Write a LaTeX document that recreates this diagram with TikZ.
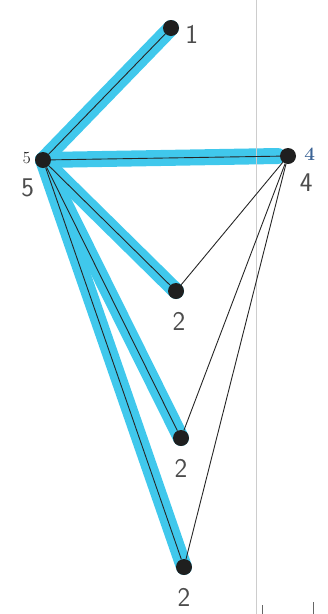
\documentclass[tikz,border=0pt]{standalone}
\usepackage{xcolor}
\usepackage{tikz}
\usetikzlibrary{positioning, backgrounds, calc}
\definecolor{hiblue}{RGB}{64,200,236}
\definecolor{tagblue}{RGB}{60,100,150}
\definecolor{margingray}{RGB}{205,205,205}
\tikzset{
    vtx/.style={circle, fill=black!88, inner sep=0pt, minimum size=16pt},
    gedge/.style={line width=0.9pt, draw=black!85},
    hilite/.style={line width=16pt, draw=hiblue, line cap=round},
    handlbl/.style={font=\sffamily\fontsize{27}{27}\selectfont, text=black!70, inner sep=0pt},
    smalllbl/.style={font=\fontsize{17}{17}\selectfont, inner sep=0pt},
}

\begin{document}
\begin{tikzpicture}[x=1pt, y=-1pt]
        \useasboundingbox (0,0) rectangle (328,614);
        % margin line of the paper
        \draw[margingray, line width=0.8pt] (256,0) -- (256,614);
        \draw[black!60, line width=0.8pt] (262,605) -- (262,614);
        \draw[black!60, line width=0.8pt] (313,602) -- (313,614);
        % vertices
        \node[vtx] (v1) at (171,28) {};
        \node[vtx] (v5) at (43,160) {};
        \node[vtx] (v4) at (288,156) {};
        \node[vtx] (v2a) at (176,291) {};
        \node[vtx] (v2b) at (181,438) {};
        \node[vtx] (v2c) at (184,567) {};
        % highlighted tree
        \begin{scope}[on background layer]
            \draw[hilite] (v5.center) -- (v1.center);
            \draw[hilite] (v5.center) -- ($(v4.center)+(-10,0)$);
            \draw[hilite] (v5.center) -- (v2a.center);
            \draw[hilite] (v5.center) -- (v2b.center);
            \draw[hilite] (v5.center) -- (v2c.center);
        \end{scope}
        % edges
        \foreach \t in {v1, v4, v2a, v2b, v2c} {
            \draw[gedge] (v5) -- (\t);
        }
        \foreach \t in {v2a, v2b, v2c} {
            \draw[gedge] (v4) -- (\t);
        }
        % labels
        \node[handlbl, right=6pt of v1, yshift=-6pt] (l1) {1};
        \node[smalllbl, left=4pt of v5, yshift=2pt] (s5) {5};
        \node[handlbl, below left=13pt and 3pt of v5] (l5) {5};
        \node[smalllbl, font=\bfseries\fontsize{19}{19}\selectfont, text=tagblue, right=8pt of v4, yshift=2pt] (s4) {4};
        \node[handlbl, below right=12pt and 6pt of v4] (l4) {4};
        \node[handlbl, below=13pt of v2a, xshift=3pt] (l2a) {2};
        \node[handlbl, below=13pt of v2b] (l2b) {2};
        \node[handlbl, below=13pt of v2c] (l2c) {2};
    \end{tikzpicture}
\end{document}
